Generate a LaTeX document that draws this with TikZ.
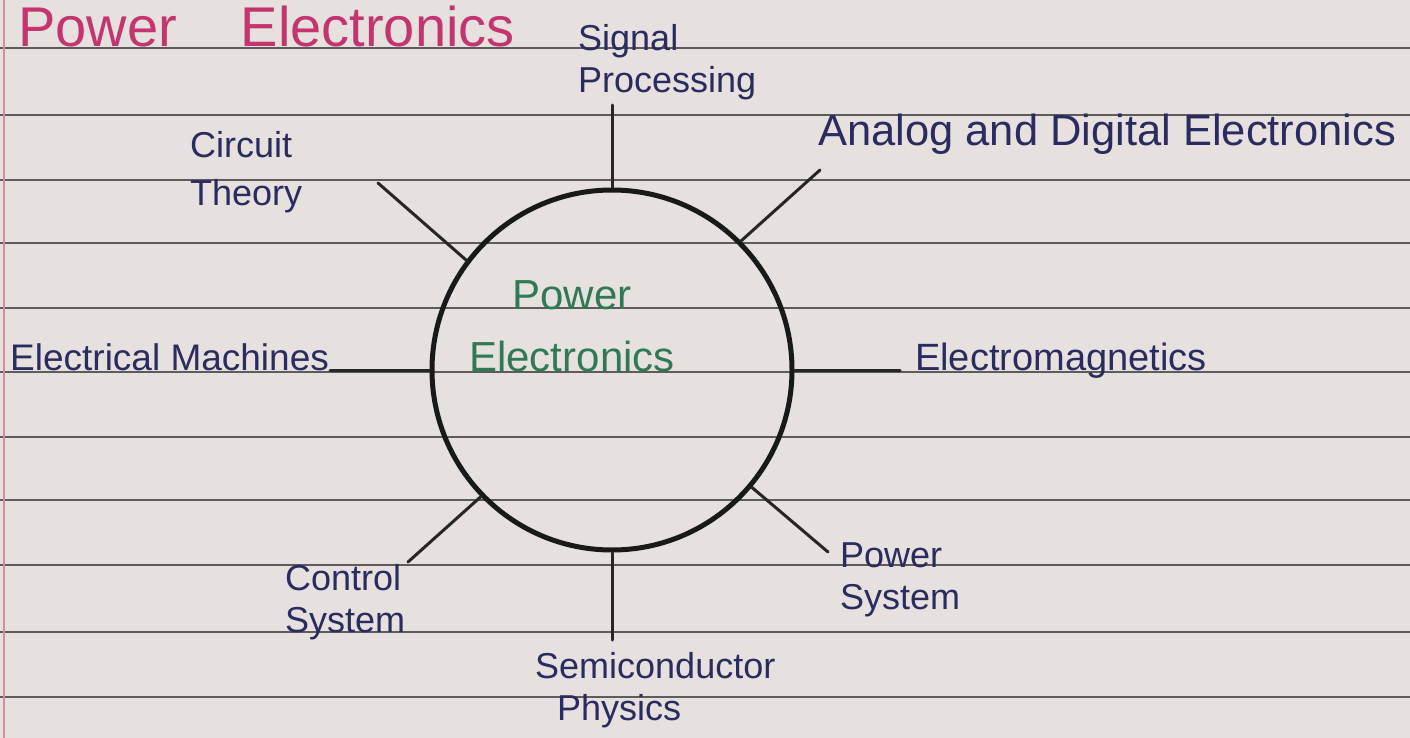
\documentclass[tikz,border=0pt]{standalone}
\usepackage{fontspec}
\setmainfont{Liberation Sans}
\definecolor{paper}{HTML}{E6E1DF}
\definecolor{rulec}{HTML}{5E5B5C}
\definecolor{ink}{HTML}{2A2B5E}
\definecolor{titlec}{HTML}{C4356F}
\definecolor{greenc}{HTML}{2F7A55}
\definecolor{marginc}{HTML}{D98A9A}
\begin{document}
\begin{tikzpicture}[x=1pt,y=-1pt,
  lbl/.style={text=ink, font=\fontsize{36}{42}\selectfont, align=left, inner sep=0pt},
  spoke/.style={draw=black!85, line width=3pt, line cap=round},
  ruleline/.style={draw=rulec, line width=1.6pt}]
\fill[paper] (0,0) rectangle (1410,738);
\useasboundingbox (0,0) rectangle (1410,738);
\foreach \y in {48,115,180,243,308,372,437,500,565,632,697}
  \draw[ruleline] (0,\y) -- (1410,\y);
\draw[marginc, line width=1.5pt] (4,0) -- (4,738);

% title
\node[lbl, text=titlec, font=\fontsize{56}{60}\selectfont, anchor=base west] (title) at (18,47) {Power\hspace{64pt}Electronics};

% central circle
\node[draw=black!90, circle, line width=5pt, minimum size=360pt, inner sep=0pt] (pe) at (612,370) {};
\node[lbl, text=greenc, font=\fontsize{42}{62}\selectfont, align=center] (pet) at (572,326) {Power\\Electronics};

% labels
\node[lbl, anchor=west] (sp) at (578,62) {Signal\\Processing};
\node[lbl, font=\fontsize{36}{48}\selectfont, anchor=west] (ct) at (190,172) {Circuit\\Theory};
\node[lbl, font=\fontsize{43.5}{46}\selectfont, anchor=base west] (ad) at (818,146) {Analog and Digital Electronics};
\node[lbl, font=\fontsize{37}{42}\selectfont, anchor=base west] (em) at (10,370) {Electrical Machines};
\node[lbl, font=\fontsize{38}{42}\selectfont, anchor=base west] (el) at (915,370) {Electromagnetics};
\node[lbl, anchor=west] (cs) at (285,602) {Control\\System};
\node[lbl, anchor=west] (ps) at (840,580) {Power\\System};
\node[lbl, anchor=west] (sc) at (535,690) {Semiconductor\\\hspace*{22pt}Physics};

% spoke ends
\coordinate (spE) at (612,105);
\coordinate (ctE) at (378,183);
\coordinate (adE) at (820,170);
\coordinate (emE) at (330,370);
\coordinate (elE) at (900,370);
\coordinate (csE) at (408,562);
\coordinate (psE) at (828,552);
\coordinate (scE) at (612,640);

\draw[spoke] (pe.90) -- (spE);
\draw[spoke] (pe.143) -- (ctE);
\draw[spoke] (pe.45) -- (adE);
\draw[spoke] (pe.180) -- (emE);
\draw[spoke] (pe.0) -- (elE);
\draw[spoke] (pe.224) -- (csE);
\draw[spoke] (pe.320) -- (psE);
\draw[spoke] (pe.270) -- (scE);
\end{tikzpicture}
\end{document}
